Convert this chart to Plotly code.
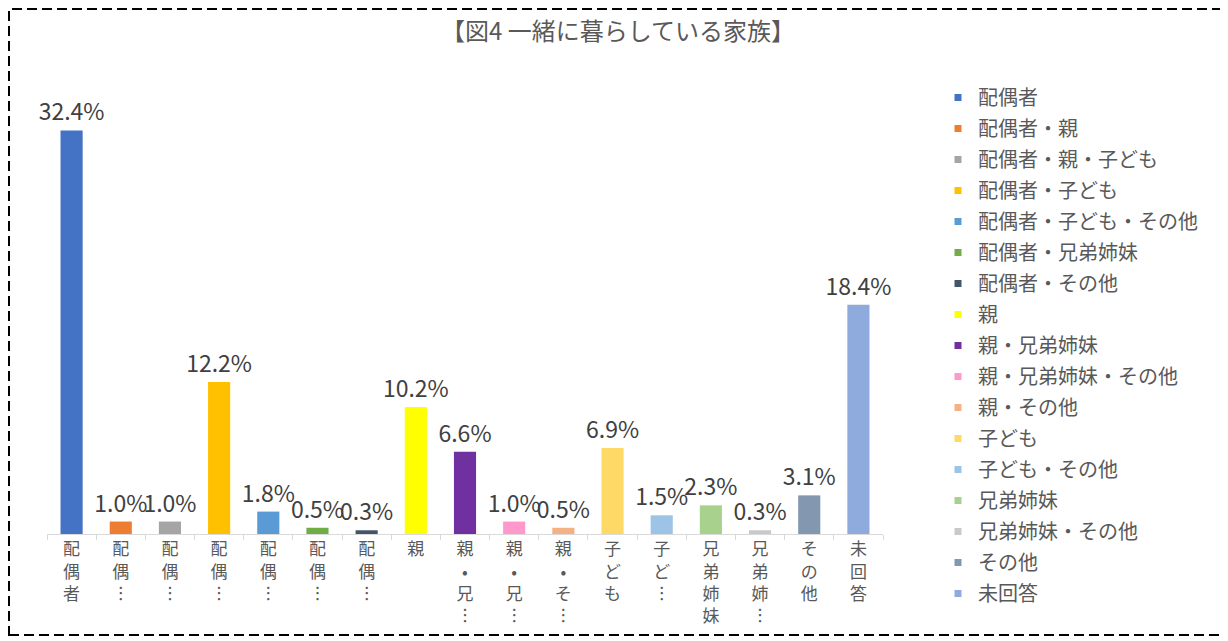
import plotly.graph_objects as go

categories = ["配偶者", "配偶者・親", "配偶者・親・子ども", "配偶者・子ども", "配偶者・子ども・その他",
              "配偶者・兄弟姉妹", "配偶者・その他", "親", "親・兄弟姉妹", "親・兄弟姉妹・その他",
              "親・その他", "子ども", "子ども・その他", "兄弟姉妹", "兄弟姉妹・その他", "その他", "未回答"]
values = [32.4, 1.0, 1.0, 12.2, 1.8, 0.5, 0.3, 10.2, 6.6, 1.0, 0.5, 6.9, 1.5, 2.3, 0.3, 3.1, 18.4]
tick_labels = ["配偶者", "配偶…", "配偶…", "配偶…", "配偶…", "配偶…", "配偶…", "親",
               "親・兄…", "親・兄…", "親・そ…", "子ども", "子ど…", "兄弟姉妹", "兄弟姉…", "その他", "未回答"]
colors = ["#4472C4", "#ED7D31", "#A5A5A5", "#FFC000", "#5B9BD5", "#70AD47", "#44546A", "#FFFF00",
          "#7030A0", "#FF99CC", "#F4B183", "#FFD966", "#9DC3E6", "#A9D18E", "#C9C9C9", "#8497B0", "#8FAADC"]
title = "【図4 一緒に暮らしている家族】"

FONT = "Noto Sans CJK JP"
TXT = "#595959"


def vertical(label):
    chars = []
    for ch in label:
        if ch == "・":
            chars.append("•")
        elif ch == "…":
            chars.append("︙")
        else:
            chars.append(ch)
    return "<br>".join(chars)


fig = go.Figure()
for cat, val, col in zip(categories, values, colors):
    fig.add_trace(go.Bar(
        x=[cat], y=[val], width=0.45, marker=dict(color=col, line=dict(width=0)),
        texttemplate="%{y:.1f}%", textposition="outside", cliponaxis=False,
        constraintext="none",
        textfont=dict(family=FONT, size=23, color="#404040"),
        showlegend=False, hoverinfo="skip",
    ))
for i, (cat, col) in enumerate(zip(categories, colors)):
    fig.add_trace(go.Scatter(
        x=[None], y=[None], mode="markers", name=cat, legendgroup=f"g{i}",
        marker=dict(symbol="square", size=7, color=col), showlegend=True,
    ))

# page has an 8px body margin; work in figure coordinates
W, H = 1220, 633
L, R, T, B = 39, 345, 90, 107
pw, ph = W - L - R, H - T - B


def px(x):
    return (x - L) / pw


def py(y):
    return (H - B - y) / ph


fig.add_shape(type="rect", xref="paper", yref="paper",
              x0=px(1), x1=px(1217), y0=py(627), y1=py(1),
              line=dict(color="black", width=2, dash="10px,5px"), fillcolor="rgba(0,0,0,0)", layer="below")

fig.update_layout(
    width=W, height=H,
    margin=dict(l=L, r=R, t=T, b=B, autoexpand=False),
    paper_bgcolor="white", plot_bgcolor="white",
    barmode="overlay",
    title=dict(text=title, x=610 / W, xanchor="center", y=1 - 24 / H, yanchor="middle",
               xref="container", yref="container",
               font=dict(family=FONT, size=24, color=TXT)),
    font=dict(family=FONT, color=TXT),
    xaxis=dict(
        categoryorder="array", categoryarray=categories,
        tickmode="array", tickvals=categories, ticktext=[vertical(t) for t in tick_labels],
        tickfont=dict(family=FONT, size=17, color=TXT),
        showline=True, linecolor="#D9D9D9", linewidth=1,
        ticks="outside", tickson="boundaries", ticklen=5, tickcolor="#D9D9D9",
        showgrid=False, zeroline=False, fixedrange=True, tickangle=0,
    ),
    yaxis=dict(range=[0, 35], visible=False, showgrid=False, zeroline=False),
    legend=dict(
        x=px(930), xanchor="left", y=py(70), yanchor="top",
        font=dict(family=FONT, size=20, color=TXT),
        tracegroupgap=2, traceorder="grouped", bgcolor="rgba(0,0,0,0)",
        maxheight=600,
    ),
)

fig.write_html("out.html")
